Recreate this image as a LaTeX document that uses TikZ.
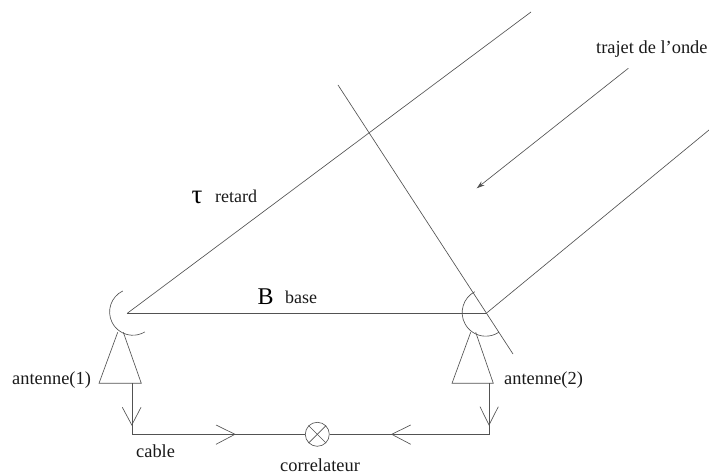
\documentclass[tikz,border=0pt]{standalone}
\usetikzlibrary{arrows.meta}
\usepackage{fontspec}
\setmainfont{Liberation Serif}
\tikzset{
  wire/.style={draw=black!68,line width=0.65pt},
  lbl/.style={anchor=base west,inner sep=0pt,font=\fontsize{18.4}{20}\selectfont,text=black!90},
  small/.style={anchor=base west,inner sep=0pt,font=\fontsize{18}{20}\selectfont,text=black!90}
}
\begin{document}
\begin{tikzpicture}[x=1pt,y=1pt]
\useasboundingbox (0,0) rectangle (709,474);
% named points
\coordinate (A) at (127,160.5);
\coordinate (Bp) at (486,160.5);
\coordinate (rayA) at (531,462);
\coordinate (rayB) at (709,344);
\coordinate (fa) at (338,389);
\coordinate (fb) at (513,120);
\coordinate (waveS) at (628.3,405.7);
\coordinate (waveE) at (476.7,285.7);
\coordinate (lfoot) at (132,90.7);
\coordinate (lbase) at (132,39.7);
\coordinate (rfoot) at (489.3,90.7);
\coordinate (rbase) at (489.3,39.7);
\node[circle,wire,minimum size=24pt,inner sep=0pt] (corr) at (317.3,39.7) {};
% rays, baseline, wavefront
\draw[wire] (A) -- (rayA);
\draw[wire] (Bp) -- (rayB);
\draw[wire] (A) -- (Bp);
\draw[wire] (fa) -- (fb);
\draw[wire,-{Stealth[length=8pt,width=5pt]}] (waveS) -- (waveE);
% dishes
\draw[wire] (122.7,183) arc[start angle=116,end angle=301,radius=23.3];
\draw[wire] (474.8,182.3) arc[start angle=117.7,end angle=304,radius=23.6];
% antenna supports
\draw[wire] (117.7,141.7) -- (99,90.7) -- (141.3,90.7) -- (123.3,141.7);
\draw[wire] (470.7,141.7) -- (452,90.7) -- (493.3,90.7) -- (475.7,141.7);
% cable
\draw[wire] (lfoot) -- (lbase) -- (corr.west);
\draw[wire] (rfoot) -- (rbase) -- (corr.east);
% correlator cross
\draw[wire] (corr.north west) -- (corr.south east);
\draw[wire] (corr.north east) -- (corr.south west);
% open arrowheads
\draw[wire] (122.3,66.7) -- (131.8,49) -- (141,66.7);
\draw[wire] (480,67.3) -- (489,49) -- (498.3,67.3);
\draw[wire] (216,49) -- (235,39.7) -- (216,29.7);
\draw[wire] (410.7,49) -- (391.7,39.7) -- (410.7,29.7);
% labels
\node[lbl] (t1) at (596,420.5) {trajet de l'onde};
\node[anchor=base west,inner sep=0pt,font=\fontsize{27}{29}\selectfont] (t2) at (191.5,270.7) {τ};
\node[small] (t3) at (215,271) {retard};
\node[anchor=base west,inner sep=0pt,font=\fontsize{24}{26}\selectfont] (t4) at (257.5,169.7) {B};
\node[small] (t5) at (285,170) {base};
\node[lbl] (t6) at (12,90) {antenne(1)};
\node[lbl] (t7) at (504,90) {antenne(2)};
\node[lbl] (t8) at (136,16.3) {cable};
\node[lbl] (t9) at (280,3) {correlateur};
\end{tikzpicture}
\end{document}
